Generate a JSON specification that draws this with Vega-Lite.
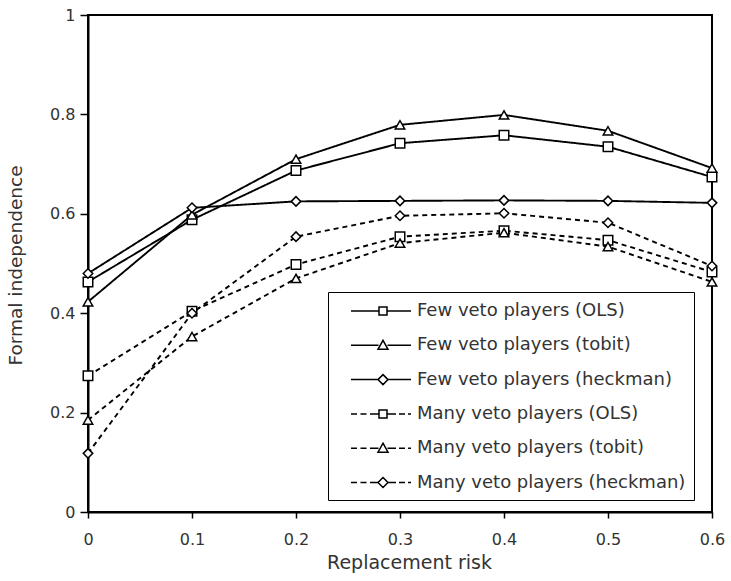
{
  "$schema": "https://vega.github.io/schema/vega-lite/v6.json",
  "autosize": {"type": "none"},
  "padding": {"left": 88, "top": 15, "right": 19, "bottom": 69},
  "width": 624,
  "height": 497,
  "background": "white",
  "config": {
    "view": {"stroke": "black", "strokeWidth": 2},
    "font": "DejaVu Sans",
    "axis": {
      "domainColor": "black", "domainWidth": 2, "tickColor": "black", "tickWidth": 1.5, "tickSize": 6,
      "labelFont": "DejaVu Sans", "labelFontSize": 16, "labelColor": "#333", "labelPadding": 6, "labelFlush": false,
      "titleFont": "DejaVu Sans", "titleFontSize": 18.5, "titleFontWeight": "normal", "titleColor": "#333",
      "grid": false
    }
  },
  "data": {"values": [
    {"x": 0, "y": 0.463, "series": "Few veto players (OLS)", "players": "Few"},
    {"x": 0.1, "y": 0.588, "series": "Few veto players (OLS)", "players": "Few"},
    {"x": 0.2, "y": 0.687, "series": "Few veto players (OLS)", "players": "Few"},
    {"x": 0.3, "y": 0.742, "series": "Few veto players (OLS)", "players": "Few"},
    {"x": 0.4, "y": 0.758, "series": "Few veto players (OLS)", "players": "Few"},
    {"x": 0.5, "y": 0.735, "series": "Few veto players (OLS)", "players": "Few"},
    {"x": 0.6, "y": 0.674, "series": "Few veto players (OLS)", "players": "Few"},
    {"x": 0, "y": 0.423, "series": "Few veto players (tobit)", "players": "Few"},
    {"x": 0.1, "y": 0.598, "series": "Few veto players (tobit)", "players": "Few"},
    {"x": 0.2, "y": 0.710, "series": "Few veto players (tobit)", "players": "Few"},
    {"x": 0.3, "y": 0.779, "series": "Few veto players (tobit)", "players": "Few"},
    {"x": 0.4, "y": 0.799, "series": "Few veto players (tobit)", "players": "Few"},
    {"x": 0.5, "y": 0.767, "series": "Few veto players (tobit)", "players": "Few"},
    {"x": 0.6, "y": 0.692, "series": "Few veto players (tobit)", "players": "Few"},
    {"x": 0, "y": 0.480, "series": "Few veto players (heckman)", "players": "Few"},
    {"x": 0.1, "y": 0.612, "series": "Few veto players (heckman)", "players": "Few"},
    {"x": 0.2, "y": 0.625, "series": "Few veto players (heckman)", "players": "Few"},
    {"x": 0.3, "y": 0.626, "series": "Few veto players (heckman)", "players": "Few"},
    {"x": 0.4, "y": 0.627, "series": "Few veto players (heckman)", "players": "Few"},
    {"x": 0.5, "y": 0.626, "series": "Few veto players (heckman)", "players": "Few"},
    {"x": 0.6, "y": 0.622, "series": "Few veto players (heckman)", "players": "Few"},
    {"x": 0, "y": 0.274, "series": "Many veto players (OLS)", "players": "Many"},
    {"x": 0.1, "y": 0.404, "series": "Many veto players (OLS)", "players": "Many"},
    {"x": 0.2, "y": 0.498, "series": "Many veto players (OLS)", "players": "Many"},
    {"x": 0.3, "y": 0.554, "series": "Many veto players (OLS)", "players": "Many"},
    {"x": 0.4, "y": 0.566, "series": "Many veto players (OLS)", "players": "Many"},
    {"x": 0.5, "y": 0.547, "series": "Many veto players (OLS)", "players": "Many"},
    {"x": 0.6, "y": 0.483, "series": "Many veto players (OLS)", "players": "Many"},
    {"x": 0, "y": 0.185, "series": "Many veto players (tobit)", "players": "Many"},
    {"x": 0.1, "y": 0.353, "series": "Many veto players (tobit)", "players": "Many"},
    {"x": 0.2, "y": 0.470, "series": "Many veto players (tobit)", "players": "Many"},
    {"x": 0.3, "y": 0.541, "series": "Many veto players (tobit)", "players": "Many"},
    {"x": 0.4, "y": 0.562, "series": "Many veto players (tobit)", "players": "Many"},
    {"x": 0.5, "y": 0.534, "series": "Many veto players (tobit)", "players": "Many"},
    {"x": 0.6, "y": 0.463, "series": "Many veto players (tobit)", "players": "Many"},
    {"x": 0, "y": 0.118, "series": "Many veto players (heckman)", "players": "Many"},
    {"x": 0.1, "y": 0.400, "series": "Many veto players (heckman)", "players": "Many"},
    {"x": 0.2, "y": 0.554, "series": "Many veto players (heckman)", "players": "Many"},
    {"x": 0.3, "y": 0.596, "series": "Many veto players (heckman)", "players": "Many"},
    {"x": 0.4, "y": 0.601, "series": "Many veto players (heckman)", "players": "Many"},
    {"x": 0.5, "y": 0.582, "series": "Many veto players (heckman)", "players": "Many"},
    {"x": 0.6, "y": 0.495, "series": "Many veto players (heckman)", "players": "Many"}
  ]},
  "encoding": {
    "x": {"field": "x", "type": "quantitative",
      "scale": {"domain": [0, 0.6], "nice": false, "zero": false},
      "axis": {"values": [0, 0.1, 0.2, 0.3, 0.4, 0.5, 0.6], "format": "~g", "title": "Replacement risk",
        "labelPadding": 13, "titleX": 321, "titleY": 50, "titleBaseline": "middle", "titleFontSize": 19}},
    "y": {"field": "y", "type": "quantitative",
      "scale": {"domain": [0, 1], "nice": false},
      "axis": {"values": [0, 0.2, 0.4, 0.6, 0.8, 1], "format": "~g", "title": "Formal independence",
        "tickSize": 8, "labelPadding": 5,
        "titleX": -73, "titleY": 250, "titleAlign": "center", "titleBaseline": "middle", "titleAngle": -90}}
  },
  "resolve": {"scale": {"shape": "independent"}, "legend": {"shape": "independent"}},
  "layer": [
    {
      "mark": {"type": "line", "stroke": "black", "strokeWidth": 1.9},
      "encoding": {
        "detail": {"field": "series"},
        "strokeDash": {"field": "players", "type": "nominal", "legend": null,
          "scale": {"domain": ["Few", "Many"], "range": [[1, 0], [5, 4]]}}
      }
    },
    {
      "mark": {"type": "point", "filled": false, "fill": "white", "fillOpacity": 1, "stroke": "black", "strokeWidth": 1.5, "size": 90, "opacity": 1},
      "encoding": {
        "shape": {"field": "series", "type": "nominal", "legend": null,
          "scale": {"domain": ["Few veto players (OLS)", "Few veto players (tobit)", "Few veto players (heckman)", "Many veto players (OLS)", "Many veto players (tobit)", "Many veto players (heckman)"],
            "range": ["square", "triangle-up", "diamond", "square", "triangle-up", "diamond"]}
        }
      }
    },
    {
      "mark": {"type": "point", "filled": false, "stroke": "black", "strokeWidth": 1.5, "size": 400, "opacity": 0},
      "encoding": {
        "shape": {"field": "series", "type": "nominal",
          "scale": {"domain": ["Few veto players (OLS)", "Few veto players (tobit)", "Few veto players (heckman)", "Many veto players (OLS)", "Many veto players (tobit)", "Many veto players (heckman)"],
            "range": [
              "M0.4,0H3.2M4,0H6.4M3.2,-0.4H4V0.4H3.2Z",
              "M0.4,0H3.15M4.05,0H6.4M3.6,-0.5L4.1,0.4L3.1,0.4Z",
              "M0.4,0H3.1M4.1,0H6.4M3.6,-0.5L4.1,0L3.6,0.5L3.1,0Z",
              "M0.4,0H1M1.35,0H1.95M2.3,0H3.2M4,0H4.9M5.2,0H5.8M6.1,0H6.4M3.2,-0.4H4V0.4H3.2Z",
              "M0.4,0H1M1.35,0H1.95M2.3,0H3.15M4.05,0H4.9M5.2,0H5.8M6.1,0H6.4M3.6,-0.5L4.1,0.4L3.1,0.4Z",
              "M0.4,0H1M1.35,0H1.95M2.3,0H3.1M4.1,0H4.9M5.2,0H5.8M6.1,0H6.4M3.6,-0.5L4.1,0L3.6,0.5L3.1,0Z"
            ]},
          "legend": {
            "title": null,
            "orient": "none",
            "legendX": 240,
            "legendY": 277,
            "padding": 8,
            "strokeColor": "black",
            "fillColor": "white",
            "symbolSize": 400,
            "labelFont": "DejaVu Sans",
            "labelFontSize": 18,
            "labelColor": "#333",
            "labelOffset": 59,
            "labelLimit": 500,
            "rowPadding": 14.3,
            "labelExpr": "datum.label + '\u00a0'",
            "encode": {
              "symbols": {"update": {
                "size": {"value": 400},
                "stroke": {"value": "black"},
                "strokeWidth": {"value": 1.5},
                "fill": {"value": "white"},
                "opacity": {"value": 1},
                "strokeOpacity": {"value": 1},
                "fillOpacity": {"value": 1}
              }}
            }
          }
        }
      }
    }
  ]
}
